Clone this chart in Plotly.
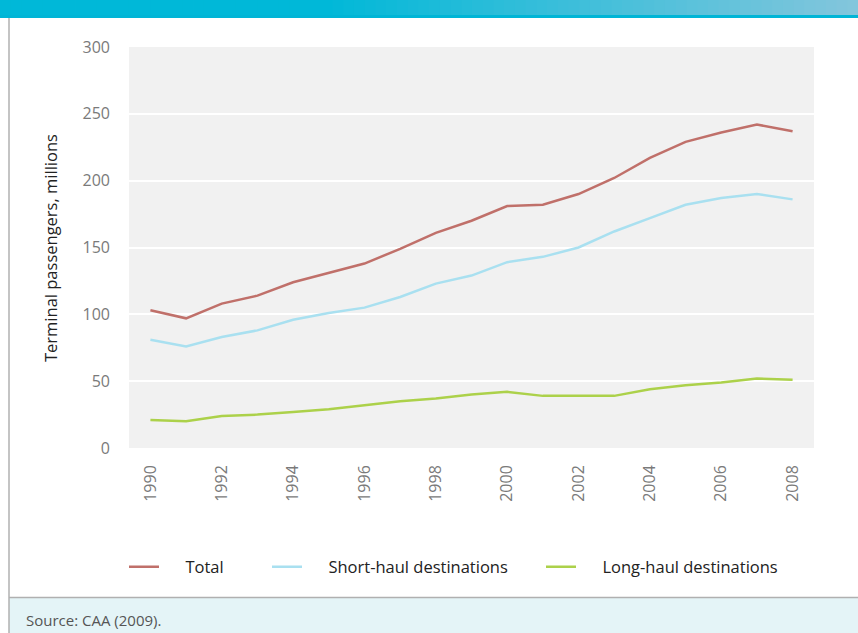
import plotly.graph_objects as go

years = list(range(1990, 2009))
total = [103, 97, 108, 114, 124, 131, 138, 149, 161, 170, 181, 182, 190, 202, 217, 229, 236, 242, 237]
short_haul = [81, 76, 83, 88, 96, 101, 105, 113, 123, 129, 139, 143, 150, 162, 172, 182, 187, 190, 186]
long_haul = [21, 20, 24, 25, 27, 29, 32, 35, 37, 40, 42, 39, 39, 39, 44, 47, 49, 52, 51]
series_names = ["Total", "Short-haul destinations", "Long-haul destinations"]
series_colors = ["#c0706a", "#a9e0f0", "#acd14a"]
x_ticks = list(range(1990, 2009, 2))
y_ticks = [0, 50, 100, 150, 200, 250, 300]

W, H = 858, 633
FONT = "Open Sans"


def px_x(v):
    return v / W


def px_y(v):
    return 1 - v / H


# each series gets its own legend box so the entries sit at their own positions
legend_ids = ["legend", "legend2", "legend3"]
legend_left = [124, 267, 541]

fig = go.Figure()
for name, vals, col, lid in zip(series_names, [total, short_haul, long_haul], series_colors, legend_ids):
    fig.add_trace(go.Scatter(
        x=years, y=vals, mode="lines", name="\u00a0\u00a0\u00a0\u00a0\u00a0" + name,
        line=dict(color=col, width=2.5), legend=lid,
    ))

legends = {}
for lid, left in zip(legend_ids, legend_left):
    legends[lid] = dict(orientation="h", x=px_x(left), y=px_y(567), xanchor="left", yanchor="middle",
                        font=dict(family=FONT, size=16.5, color="#222"),
                        bgcolor="rgba(0,0,0,0)", itemwidth=30)

shapes = []
# header band with a horizontal colour fade
n = 80
c0 = (0x00, 0xb8, 0xd8)
c1 = (0x85, 0xc6, 0xdc)
for i in range(n):
    x0 = i * W / n
    x1 = (i + 1) * W / n
    t = max(0.0, (x0 - 320) / (W - 320))
    c = tuple(int(round(a + (b - a) * t)) for a, b in zip(c0, c1))
    shapes.append(dict(type="rect", xref="paper", yref="paper",
                       x0=px_x(x0), x1=px_x(x1) + 0.001, y0=px_y(15), y1=1,
                       fillcolor="rgb(%d,%d,%d)" % c, line=dict(width=0), layer="below"))
shapes.append(dict(type="rect", xref="paper", yref="paper", x0=0, x1=1,
                   y0=px_y(18), y1=px_y(15), fillcolor="#00b5d6", line=dict(width=0), layer="below"))
# footer band
shapes.append(dict(type="rect", xref="paper", yref="paper", x0=px_x(9), x1=1,
                   y0=0, y1=px_y(597), fillcolor="#e4f4f7", line=dict(width=0), layer="below"))
shapes.append(dict(type="line", xref="paper", yref="paper", x0=px_x(9), x1=1,
                   y0=px_y(597.5), y1=px_y(597.5), line=dict(color="#b0b0b0", width=1.5)))
# left frame line
shapes.append(dict(type="line", xref="paper", yref="paper", x0=px_x(9), x1=px_x(9),
                   y0=0, y1=px_y(18), line=dict(color="#b0b0b0", width=1.5)))

fig.update_layout(
    width=W, height=H,
    margin=dict(l=0, r=0, t=0, b=0, autoexpand=False),
    paper_bgcolor="white",
    plot_bgcolor="#f1f1f1",
    font=dict(family=FONT, color="#222"),
    showlegend=True,
    xaxis=dict(domain=[px_x(129), px_x(814)], range=[1989.4, 2008.6],
               tickmode="array", tickvals=x_ticks, ticktext=[str(v) for v in x_ticks],
               tickangle=-90, showgrid=False, zeroline=False, showline=False, ticks="",
               ticklabelstandoff=13,
               tickfont=dict(family=FONT, size=16, color="#7a7a7a")),
    yaxis=dict(domain=[px_y(448), px_y(47)], range=[0, 300],
               tickmode="array", tickvals=y_ticks, ticktext=[str(v) for v in y_ticks],
               showgrid=True, gridcolor="white", gridwidth=2, zeroline=False,
               showline=False, ticks="", ticklabelstandoff=18,
               tickfont=dict(family=FONT, size=16, color="#7a7a7a")),
    shapes=shapes,
    annotations=[
        dict(text="Terminal passengers, millions", xref="paper", yref="paper",
             x=px_x(50), y=px_y(248), xanchor="center", yanchor="middle", textangle=-90,
             showarrow=False, font=dict(family=FONT, size=16.5, color="#222")),
        dict(text="Source: CAA (2009).", xref="paper", yref="paper",
             x=px_x(24), y=px_y(620), xanchor="left", yanchor="middle",
             showarrow=False, font=dict(family=FONT, size=15, color="#555")),
    ],
    **legends,
)

fig.write_html("out.html")
